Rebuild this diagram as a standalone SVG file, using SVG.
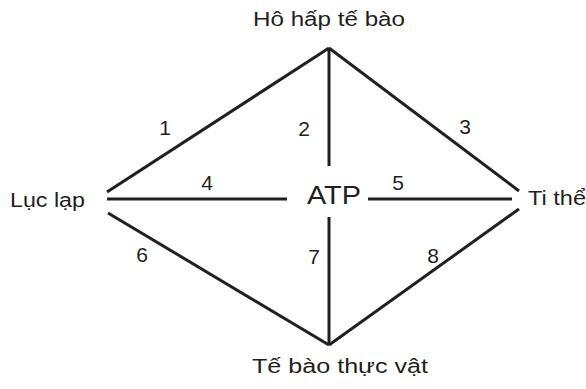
<svg xmlns="http://www.w3.org/2000/svg" width="586" height="389" viewBox="0 0 586 389">
<style>
.lbl{font-family:"Liberation Sans",Arial,sans-serif;font-size:20px;fill:#231f20}
.num{font-family:"Liberation Sans",Arial,sans-serif;font-size:21px;fill:#231f20;text-anchor:middle}
.ln{stroke:#231f20;stroke-width:3;fill:none;stroke-linecap:butt}
</style>
<rect width="586" height="389" fill="#ffffff"/>
<g id="connectors">
<line class="ln" x1="107" y1="192" x2="329" y2="48"/>
<line class="ln" x1="329" y1="48" x2="519" y2="191"/>
<line class="ln" x1="329" y1="48" x2="329" y2="166"/>
<line class="ln" x1="107" y1="199" x2="287" y2="199"/>
<line class="ln" x1="368" y1="199" x2="512" y2="199"/>
<line class="ln" x1="329" y1="217" x2="329" y2="345"/>
<line class="ln" x1="108" y1="213" x2="329" y2="345"/>
<line class="ln" x1="519" y1="209" x2="329" y2="345"/>
<text class="num" x="165" y="135">1</text>
<text class="num" x="304" y="136">2</text>
<text class="num" x="465" y="134">3</text>
<text class="num" x="207" y="190">4</text>
<text class="num" x="398" y="190">5</text>
<text class="num" x="142" y="262">6</text>
<text class="num" x="314" y="264">7</text>
<text class="num" x="433" y="263">8</text>
</g>
<g id="node-hohap"><text class="lbl" x="253" y="26" textLength="152" lengthAdjust="spacingAndGlyphs">Hô hấp tế bào</text></g>
<g id="node-luclap"><text class="lbl" x="10" y="207" textLength="75" lengthAdjust="spacingAndGlyphs">Lục lạp</text></g>
<g id="node-tithe"><text class="lbl" x="528" y="205" textLength="58" lengthAdjust="spacingAndGlyphs">Ti thể</text></g>
<g id="node-tebao"><text class="lbl" x="252" y="373" textLength="176" lengthAdjust="spacingAndGlyphs">Tế bào thực vật</text></g>
<g id="node-atp"><text class="lbl" x="307" y="204" style="font-size:26px" textLength="54" lengthAdjust="spacingAndGlyphs">ATP</text></g>
</svg>
